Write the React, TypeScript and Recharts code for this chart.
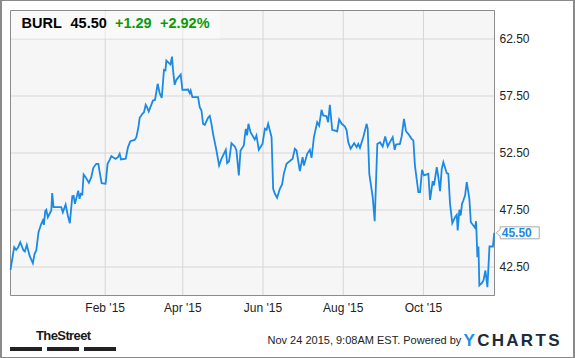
import {
  LineChart,
  Line,
  XAxis,
  YAxis,
  CartesianGrid,
  ReferenceArea,
  ReferenceDot,
} from "recharts"

// days since Nov 21 2014
const days = [
  0, 2.8, 4.3, 5.6, 7.4, 9.9, 10.9, 12.4, 14.5, 17.0,
  18.3, 19.6, 21.3, 23.4, 24.6, 25.4, 26.4, 27.2, 28.4, 29.7,
  31.0, 31.7, 32.7, 38.6, 39.8, 41.9, 43.6, 45.1, 47.0, 48.0,
  49.0, 51.5, 52.5, 53.5, 54.6, 55.6, 57.1, 59.6, 61.4, 63.0,
  65.2, 66.8, 67.8, 69.3, 72.3, 73.8, 75.4, 76.7, 77.9, 79.9,
  81.7, 83.0, 84.0, 87.6, 89.3, 91.1, 94.4, 95.7, 97.2, 98.2,
  100.3, 101.5, 102.8, 103.8, 105.1, 106.4, 108.3, 109.9, 111.9, 113.4,
  115.0, 116.7, 117.8, 118.5, 120.5, 121.6, 122.8, 123.6, 124.8, 126.1,
  129.4, 130.7, 135.0, 136.3, 137.0, 138.3, 142.6, 143.9, 145.2, 146.4,
  147.7, 150.2, 151.5, 152.8, 154.0, 156.6, 158.6, 160.4, 163.7, 164.7,
  166.2, 168.0, 170.5, 171.8, 173.6, 174.9, 177.4, 178.1, 178.9, 179.9,
  180.9, 182.5, 185.7, 187.0, 188.8, 191.6, 193.4, 194.7, 195.9, 198.5,
  199.7, 201.0, 202.7, 204.8, 206.5, 207.8, 209.9, 214.5, 216.2, 217.5,
  220.0, 222.1, 223.1, 225.6, 227.6, 228.9, 230.7, 233.2, 234.7, 236.5,
  237.7, 240.3, 241.5, 242.8, 244.6, 248.4, 249.9, 251.8, 254.3, 255.6,
  256.8, 258.6, 261.3, 263.2, 264.4, 265.7, 268.2, 270.8, 271.6, 272.8,
  275.4, 276.9, 278.9, 280.9, 283.0, 284.9, 286.8, 288.5, 290.6, 292.1,
  293.1, 296.1, 297.4, 299.2, 300.7, 302.4, 305.0, 306.3, 307.5, 310.1,
  311.4, 312.9, 314.4, 317.7, 319.0, 321.0, 322.0, 324.1, 325.3, 326.6,
  327.9, 329.1, 331.7, 332.9, 334.2, 335.9, 338.0, 339.3, 340.0, 341.3,
  342.3, 343.3, 344.3, 345.6, 346.9, 348.9, 350.0, 351.9, 353.2, 354.0,
  355.0, 355.8, 356.5, 358.3, 359.6, 361.1, 362.6, 364.2, 366.8, 367.8,
]

const closes = [
  42.25, 44.24, 44.0, 44.18, 44.68, 43.95, 43.86, 44.44, 43.5, 42.83,
  43.65, 43.95, 45.55, 46.29, 46.58, 46.2, 47.4, 47.52, 46.87, 47.17,
  47.46, 48.98, 47.75, 47.75, 47.3, 47.98, 47.02, 46.34, 48.71, 48.74,
  48.04, 49.2, 48.48, 48.92, 48.86, 50.61, 50.38, 49.89, 50.38, 51.2,
  51.55, 51.55, 50.82, 49.85, 49.8, 51.55, 51.9, 52.22, 52.13, 51.99,
  52.13, 52.43, 51.93, 52.0, 53.0, 53.53, 53.65, 53.89, 54.71, 55.59,
  55.94, 56.08, 56.73, 56.52, 56.14, 56.52, 57.1, 57.17, 58.57, 57.75,
  57.34, 59.8, 59.74, 60.61, 60.38, 60.26, 60.96, 59.74, 58.48, 58.92,
  59.39, 58.04, 58.07, 57.75, 57.98, 57.4, 57.4, 56.52, 56.23, 55.06,
  54.97, 55.59, 55.76, 55.06, 54.18, 52.72, 51.4, 51.99, 52.78, 51.61,
  51.78, 53.36, 53.07, 52.72, 50.53, 52.72, 53.16, 53.89, 54.62, 54.04,
  55.06, 54.33, 53.68, 54.04, 52.78, 53.3, 54.62, 54.53, 55.06, 53.89,
  49.36, 48.92, 48.57, 49.36, 49.74, 50.67, 51.55, 51.99, 52.87, 52.72,
  50.92, 52.13, 51.4, 52.43, 52.78, 52.07, 53.89, 55.2, 54.91, 56.29,
  55.79, 55.73, 55.2, 56.73, 54.54, 54.41, 55.44, 55.06, 54.82, 54.47,
  53.45, 52.87, 53.36, 53.01, 53.3, 52.95, 53.89, 55.06, 54.62, 50.67,
  48.63, 46.52, 53.3, 53.45, 53.07, 53.95, 53.07, 53.45, 53.89, 52.78,
  53.25, 53.3, 53.95, 55.5, 54.41, 54.18, 53.74, 53.6, 51.4, 49.06,
  49.06, 51.02, 50.53, 50.67, 48.39, 50.03, 49.65, 51.25, 50.38, 49.15,
  51.11, 51.7, 50.73, 50.67, 48.04, 46.34, 46.87, 47.08, 45.7, 47.52,
  47.02, 48.04, 48.33, 48.77, 49.94, 48.48, 46.43, 46.14, 45.94, 46.52,
  43.36, 44.3, 40.88, 41.08, 41.32, 42.19, 40.73, 44.3, 44.3, 45.5,
]

const monthTicks = [72, 131, 192, 253, 314]
const monthLabels = ["Feb '15", "Apr '15", "Jun '15", "Aug '15", "Oct '15"]
const priceTicks = [42.5, 47.5, 52.5, 57.5, 62.5]

const ticker = "BURL"
const lastPrice = "45.50"
const change = "+1.29"
const changePct = "+2.92%"

const data = days.map((day, i) => ({ day, close: closes[i] }))

const BLUE = "#1a8ae6"
const FONT = "'Liberation Sans', Arial, Helvetica, sans-serif"

function PriceTag(props: any) {
  const { cx, cy } = props
  const pts = [
    [cx + 6, cy - 6],
    [cx + 45, cy - 6],
    [cx + 45, cy + 6],
    [cx + 6, cy + 6],
    [cx + 6, cy + 3.5],
    [cx + 2, cy],
    [cx + 6, cy - 3.5],
  ]
    .map((p) => p.join(","))
    .join(" ")
  return (
    <g>
      <polygon points={pts} fill="#fff" stroke="#a8a8a8" strokeWidth={1} />
      <text
        x={cx + 7.5}
        y={cy + 4.3}
        fill={BLUE}
        fontSize={12}
        fontWeight="bold"
        fontFamily={FONT}
      >
        {lastPrice}
      </text>
    </g>
  )
}

export default function App() {
  const last = data[data.length - 1]

  return (
    <div
      style={{
        position: "absolute",
        left: 0,
        top: 0,
        width: 575,
        height: 358,
        background: "#fff",
        fontFamily: FONT,
      }}
    >
      <LineChart
        width={575}
        height={358}
        data={data}
        margin={{ top: 10.5, right: 0, bottom: 0, left: 10.5 }}
      >
        <CartesianGrid stroke="#d6d6d6" fill="#f6f6f6" />
        <XAxis
          dataKey="day"
          type="number"
          domain={[0, 368]}
          ticks={monthTicks}
          tickFormatter={(v: number) => monthLabels[monthTicks.indexOf(v)]}
          axisLine={false}
          tickLine={false}
          tickSize={0}
          tickMargin={8}
          height={62.5}
          tick={{ fill: "#222", fontSize: 12, fontFamily: FONT }}
        />
        <YAxis
          orientation="right"
          domain={[40, 65]}
          ticks={priceTicks}
          tickFormatter={(v: number) => v.toFixed(2)}
          axisLine={false}
          tickLine={false}
          tickSize={3}
          tickMargin={2}
          width={80.5}
          tick={{ fill: "#222", fontSize: 12, fontFamily: FONT }}
        />
        <ReferenceArea
          x1={0}
          x2={368}
          y1={40}
          y2={65}
          fill="none"
          fillOpacity={0}
          stroke="#8c8c8c"
          ifOverflow="visible"
        />
        <Line
          type="linear"
          dataKey="close"
          stroke={BLUE}
          strokeWidth={1.8}
          dot={false}
          isAnimationActive={false}
        />
        <ReferenceDot
          x={last.day}
          y={last.close}
          ifOverflow="visible"
          shape={PriceTag}
        />
      </LineChart>

      {/* quote header */}
      <div
        style={{
          position: "absolute",
          left: 11,
          top: 11,
          width: 209,
          height: 27.5,
          background: "rgba(255,255,255,0.4)",
        }}
      />
      {[
        { text: ticker, left: 21.5, color: "#000" },
        { text: lastPrice, left: 70.5, color: "#000" },
        { text: change, left: 115, color: "#0a9a0a" },
        { text: changePct, left: 160, color: "#0a9a0a" },
      ].map((t) => (
        <span
          key={t.text}
          style={{
            position: "absolute",
            left: t.left,
            top: 16,
            fontSize: 14.5,
            lineHeight: 1,
            fontWeight: "bold",
            color: t.color,
            whiteSpace: "nowrap",
          }}
        >
          {t.text}
        </span>
      ))}

      {/* footer */}
      <span
        style={{
          position: "absolute",
          left: 36,
          top: 329,
          fontSize: 13,
          lineHeight: 1,
          fontWeight: "bold",
          letterSpacing: -0.6,
          color: "#1a1a1a",
        }}
      >
        TheStreet
      </span>
      {[10, 47, 83.5].map((x) => (
        <div
          key={x}
          style={{
            position: "absolute",
            left: x,
            top: 347.3,
            width: 32.3,
            height: 3.4,
            background: "#222",
          }}
        />
      ))}
      <span
        style={{
          position: "absolute",
          left: 267.5,
          top: 334.7,
          fontSize: 11,
          lineHeight: 1,
          color: "#222",
          whiteSpace: "nowrap",
        }}
      >
        Nov 24 2015, 9:08AM EST. Powered by
      </span>
      <span
        style={{
          position: "absolute",
          left: 463.5,
          top: 332.3,
          fontSize: 17,
          lineHeight: 1,
          fontWeight: 900,
          letterSpacing: 2.3,
          color: "#1c2a39",
          whiteSpace: "nowrap",
        }}
      >
        <span style={{ color: "#1e8fe6" }}>Y</span>CHARTS
      </span>

      {/* outer frame */}
      <div
        style={{
          position: "absolute",
          left: 0,
          top: 0,
          width: 575,
          height: 358,
          boxSizing: "border-box",
          borderStyle: "solid",
          borderColor: "#8a8a8a",
          borderWidth: "1px 2px 1px 2px",
          pointerEvents: "none",
        }}
      />
    </div>
  )
}
